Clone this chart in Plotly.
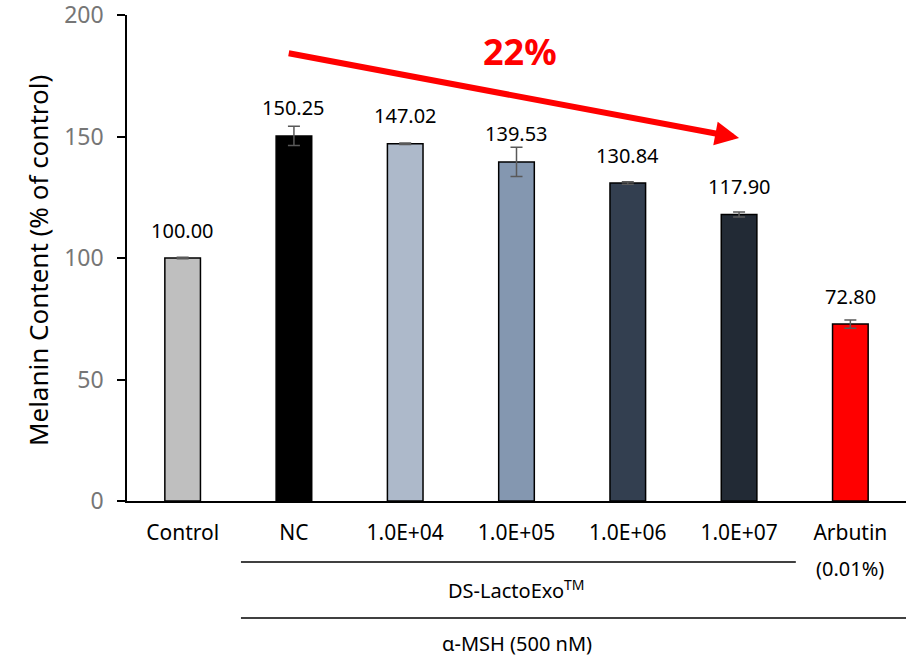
import plotly.graph_objects as go

categories = ["Control", "NC", "1.0E+04", "1.0E+05", "1.0E+06", "1.0E+07", "Arbutin"]
values = [100.00, 150.25, 147.02, 139.53, 130.84, 117.90, 72.80]
errors = [0.3, 4.0, 0.3, 6.0, 0.5, 1.0, 1.7]
value_labels = ["100.00", "150.25", "147.02", "139.53", "130.84", "117.90", "72.80"]
colors = ["#BFBFBF", "#000000", "#ADB9CA", "#8497B0", "#333F50", "#222A35", "#FF0000"]
y_ticks = [0, 50, 100, 150, 200]
pct_text = "22%"
group1_text = "DS-LactoExo<sup>TM</sup>"
group2_text = "α-MSH (500 nM)"
arbutin_sub = "(0.01%)"

FONT = "Noto Sans, Noto Sans CJK KR, sans-serif"
xs = list(range(len(categories)))

fig = go.Figure()
fig.add_trace(go.Bar(
    x=xs, y=values, width=0.32,
    marker=dict(color=colors, line=dict(color="#000000", width=1.5)),
    error_y=dict(type="data", array=errors, visible=True, color="#595959",
                 thickness=1.5, width=6),
    showlegend=False, hoverinfo="skip",
))

annotations = []
for x, v, t in zip(xs, values, value_labels):
    annotations.append(dict(x=x, y=v, xref="x", yref="y", text=t, showarrow=False,
                            yanchor="middle", yshift=28,
                            font=dict(family=FONT, size=20, color="#000000")))

# trend arrow
annotations.append(dict(x=5, y=149.4, xref="x", yref="y", ax=0.94, ay=184.4,
                        axref="x", ayref="y", text="", showarrow=True,
                        arrowhead=2, arrowsize=0.8, arrowwidth=6, arrowcolor="#FF0000",
                        standoff=0, startstandoff=0))
annotations.append(dict(x=3.03, y=184.9, xref="x", yref="y", text="<b>" + pct_text + "</b>",
                        showarrow=False, font=dict(family=FONT, size=36, color="#FF0000")))

# group labels below axis
annotations.append(dict(x=6, y=-0.1399, xref="x", yref="paper", text=arbutin_sub,
                        showarrow=False, yanchor="middle",
                        font=dict(family=FONT, size=20, color="#000000")))
annotations.append(dict(x=3.0, y=-0.1831, xref="x", yref="paper", text=group1_text,
                        showarrow=False, yanchor="middle",
                        font=dict(family=FONT, size=20, color="#000000")))
annotations.append(dict(x=3.0, y=-0.2935, xref="x", yref="paper", text=group2_text,
                        showarrow=False, yanchor="middle",
                        font=dict(family=FONT, size=20, color="#000000")))
# y axis title
annotations.append(dict(x=-0.114, y=0.494, xref="paper", yref="paper",
                        text="Melanin Content (% of control)", textangle=-90,
                        showarrow=False, xanchor="center", yanchor="middle",
                        font=dict(family=FONT, size=26, color="#000000")))

shapes = [
    dict(type="line", xref="x", yref="paper", x0=0.524, x1=5.51, y0=-0.1255, y1=-0.1255,
         line=dict(color="#000000", width=1.5)),
    dict(type="line", xref="x", yref="paper", x0=0.524, x1=6.5, y0=-0.2407, y1=-0.2407,
         line=dict(color="#000000", width=1.5)),
]

fig.update_layout(
    width=907, height=657,
    margin=dict(l=127, r=1, t=15, b=156, autoexpand=False),
    plot_bgcolor="white", paper_bgcolor="white",
    font=dict(family=FONT, color="#000000"),
    annotations=annotations, shapes=shapes,
    xaxis=dict(range=[-0.5, 6.5], tickmode="array", tickvals=xs, ticktext=categories,
               showline=True, linecolor="#000000", linewidth=1.5, ticks="",
               showgrid=False, zeroline=False, ticklabelstandoff=12, automargin=False,
               tickfont=dict(family=FONT, size=21, color="#000000")),
    yaxis=dict(range=[0, 200], tickmode="array", tickvals=y_ticks,
               showline=True, linecolor="#000000", linewidth=1.5, ticks="outside",
               ticklen=8, tickwidth=1.5, tickcolor="#000000", showgrid=False,
               zeroline=False, ticklabelstandoff=9, ticklabeloverflow="allow",
               automargin=False,
               tickfont=dict(family=FONT, size=23, color="#767676")),
)

fig.write_html("out.html", config={"displayModeBar": False},
               post_script="document.body.style.margin='0';document.body.style.overflow='hidden';")
